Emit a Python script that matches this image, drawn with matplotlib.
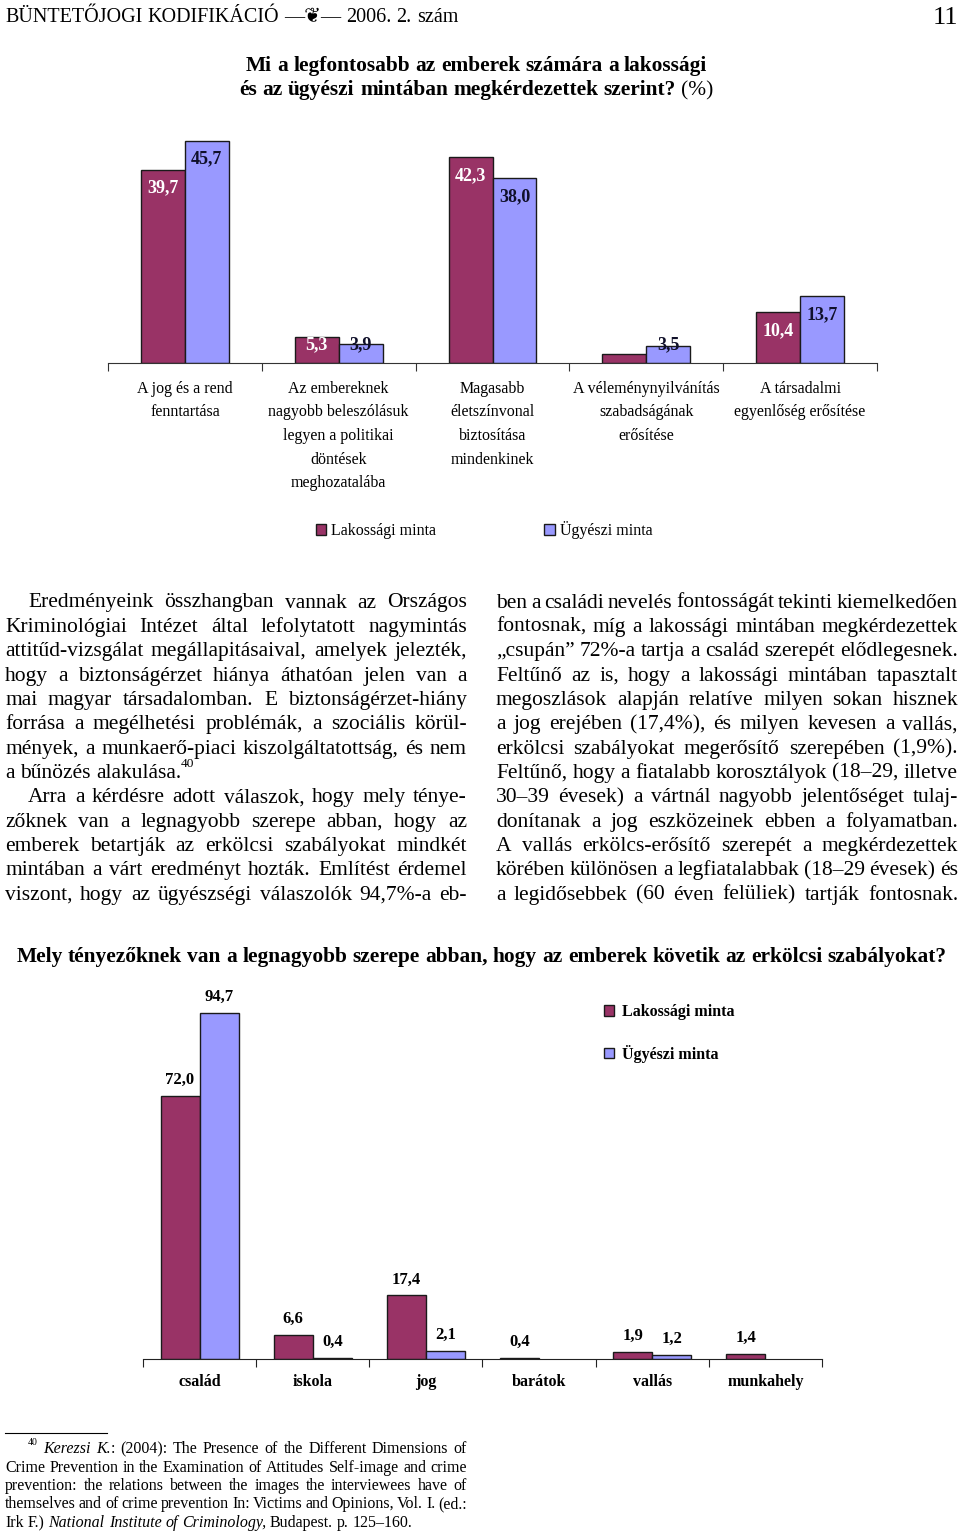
import matplotlib
matplotlib.use('Agg')
import matplotlib.pyplot as plt
import matplotlib.transforms as mtransforms
import numpy as np

plt.rcParams['font.family'] = ['Liberation Serif', 'DejaVu Sans']

# --- chart 1: Mi a legfontosabb ... (%)
cats1 = ['A jog és a rend\nfenntartása',
         'Az embereknek\nnagyobb beleszólásuk\nlegyen a politikai\ndöntések\nmeghozatalába',
         'Magasabb\néletszínvonal\nbiztosítása\nmindenkinek',
         'A véleménynyilvánítás\nszabadságának\nerősítése',
         'A társadalmi\negyenlőség erősítése']
lak1 = [39.7, 5.3, 42.3, 1.9, 10.4]
ugy1 = [45.7, 3.9, 38.0, 3.5, 13.7]

# --- chart 2: Mely tényezőknek ...
cats2 = ['család', 'iskola', 'jog', 'barátok', 'vallás', 'munkahely']
lak2 = [72.0, 6.6, 17.4, 0.4, 1.9, 1.4]
ugy2 = [94.7, 0.4, 2.1, 0.0, 1.2, 0.0]

series = ['Lakossági minta', 'Ügyészi minta']
colors = ['#993366', '#9999ff']

title1 = ['Mi a legfontosabb az emberek számára a lakossági',
          'és az ügyészi mintában megkérdezettek szerint? ~(%)']
title2 = 'Mely tényezőknek van a legnagyobb szerepe abban, hogy az emberek követik az erkölcsi szabályokat?'

# body text, markup: _italic  ^superscript  | joins pieces of one word
left_col = [
    'Eredményeink összhangban vannak az Országos',
    'Kriminológiai Intézet által lefolytatott nagymintás',
    'attitűd-vizsgálat megállapitásaival, amelyek jelezték,',
    'hogy a biztonságérzet hiánya áthatóan jelen van a',
    'mai magyar társadalomban. E biztonságérzet-hiány',
    'forrása a megélhetési problémák, a szociális körül-',
    'mények, a munkaerő-piaci kiszolgáltatottság, és nem',
    'a bűnözés alakulása.|^40',
    'Arra a kérdésre adott válaszok, hogy mely ténye-',
    'zőknek van a legnagyobb szerepe abban, hogy az',
    'emberek betartják az erkölcsi szabályokat mindkét',
    'mintában a várt eredményt hozták. Említést érdemel',
    'viszont, hogy az ügyészségi válaszolók 94,7%-a eb-',
]
right_col = [
    'ben a családi nevelés fontosságát tekinti kiemelkedően',
    'fontosnak, míg a lakossági mintában megkérdezettek',
    '„csupán” 72%-a tartja a család szerepét elődlegesnek.',
    'Feltűnő az is, hogy a lakossági mintában tapasztalt',
    'megoszlások alapján relatíve milyen sokan hisznek',
    'a jog erejében (17,4%), és milyen kevesen a vallás,',
    'erkölcsi szabályokat megerősítő szerepében (1,9%).',
    'Feltűnő, hogy a fiatalabb korosztályok (18–29, illetve',
    '30–39 évesek) a vártnál nagyobb jelentőséget tulaj-',
    'donítanak a jog eszközeinek ebben a folyamatban.',
    'A vallás erkölcs-erősítő szerepét a megkérdezettek',
    'körében különösen a legfiatalabbak (18–29 évesek) és',
    'a legidősebbek (60 éven felüliek) tartják fontosnak.',
]
footnote = [
    '^40 _Kerezsi _K.|: (2004): The Presence of the Different Dimensions of',
    'Crime Prevention in the Examination of Attitudes Self-image and crime',
    'prevention: the relations between the images the interviewees have of',
    'themselves and of crime prevention In: Victims and Opinions, Vol. I. (ed.:',
    'Irk F.) _National _Institute _of _Criminology, Budapest. p. 125–160.',
]

W, H = 960, 1531
fig = plt.figure(figsize=(W / 100, H / 100), dpi=100)
page = fig.add_axes([0, 0, 1, 1])
page.set_xlim(0, W)
page.set_ylim(H, 0)
page.axis('off')
renderer = fig.canvas.get_renderer()


def px_rect(x0, y0, x1, y1):
    return [x0 / W, 1 - y1 / H, (x1 - x0) / W, (y1 - y0) / H]


def fmt(v):
    return f'{v:.1f}'.replace('.', ',')


def put(x, y, s, size, style):
    if style == 'sup':
        size = size * 0.62
        y = y - size * 1.389 * 0.8
    return page.text(x, y, s, fontsize=size,
                     fontweight='bold' if style == 'bold' else 'normal',
                     fontstyle='italic' if style == 'italic' else 'normal',
                     ha='left', va='baseline')


def text_line(line, x0, x1, y, size, align='justify', base='normal'):
    items = []
    for w in line.split(' '):
        ts, ws = [], []
        for s in w.split('|'):
            st = base
            if s[:1] == '_':
                st, s = 'italic', s[1:]
            elif s[:1] == '^':
                st, s = 'sup', s[1:]
            elif s[:1] == '~':
                st, s = 'normal', s[1:]
            t = put(0, y, s, size, st)
            ts.append(t)
            ws.append(t.get_window_extent(renderer).width)
        items.append((ts, ws))
    total = sum(sum(ws) for _, ws in items)
    gap = size * 1.389 * 0.25
    if align == 'justify' and len(items) > 1:
        gap = (x1 - x0 - total) / (len(items) - 1)
    full = total + gap * (len(items) - 1)
    x = (x0 + x1) / 2 - full / 2 if align == 'center' else x0
    for ts, ws in items:
        for t, w in zip(ts, ws):
            t.set_x(x)
            x += w
        x += gap


# header
text_line('BÜNTETŐJOGI KODIFIKÁCIÓ —❦— 2006. 2. szám', 5, 500, 22, 14.5, align='left')
page.text(958, 24, '11', fontsize=19, ha='right', va='baseline')

# chart 1 title
for k, ln in enumerate(title1):
    text_line(ln, 245, 708, 71 + 24 * k, 15.4, align='center', base='bold')

# chart 1
ax1 = fig.add_axes(px_rect(108, 120, 877, 363))
x1 = np.arange(len(cats1))
bw1 = 0.286
b1 = ax1.bar(x1 - bw1 / 2, lak1, bw1, color=colors[0], edgecolor='#1a1a1a', lw=1)
b2 = ax1.bar(x1 + bw1 / 2, ugy1, bw1, color=colors[1], edgecolor='#1a1a1a', lw=1)
ax1.set_xlim(-0.5, len(cats1) - 0.5)
ax1.set_ylim(0, 50)
for side in ['left', 'right', 'top']:
    ax1.spines[side].set_visible(False)
ax1.spines['bottom'].set_color('#333333')
ax1.set_yticks([])
ax1.set_xticks([])
ax1.set_xticks(np.arange(-0.5, len(cats1)), minor=True)
ax1.tick_params(axis='x', which='minor', length=6, width=0.8, color='#333333')
ax1.patch.set_alpha(0)
for xi, v in zip(x1, lak1):
    if v >= 3:
        ax1.text(xi - bw1 / 2, max(v - 3.7, 3.7), fmt(v), ha='center', va='center',
                 color='white', fontsize=13, fontweight='bold')
for xi, v in zip(x1, ugy1):
    if v >= 3:
        ax1.text(xi + bw1 / 2, max(v - 3.7, 3.7), fmt(v), ha='center', va='center',
                 color='#10102a', fontsize=13, fontweight='bold')
tr1 = mtransforms.blended_transform_factory(ax1.transData, page.transData)
for i, lab in enumerate(cats1):
    for k, ln in enumerate(lab.split('\n')):
        ax1.text(i, 389 + 23.5 * k, ln, transform=tr1, ha='center', va='center', fontsize=11.5)
fig.legend([b1, b2], series, loc='center', bbox_to_anchor=(484 / W, 1 - 530 / H), ncol=2,
           frameon=False, fontsize=11.5, handlelength=0.65, handleheight=0.65,
           handletextpad=0.3, columnspacing=6.8, borderpad=0)

# body text
for i, ln in enumerate(left_col):
    indent = 28 if i in (0, 8) else 5
    text_line(ln, indent, 467, 607.5 + 24.35 * i, 15.5, align='left' if i == 7 else 'justify')
for i, ln in enumerate(right_col):
    text_line(ln, 496, 958, 607.5 + 24.35 * i, 15.5)

# chart 2 title
text_line(title2, 15, 948, 962, 15.4, align='center', base='bold')

# chart 2
ax2 = fig.add_axes(px_rect(143, 994, 822, 1359))
x2 = np.arange(len(cats2))
bw2 = 0.345
lak2a, ugy2a = np.array(lak2), np.array(ugy2)
m1, m2 = lak2a > 0, ugy2a > 0
c1 = ax2.bar(x2[m1] - bw2 / 2, lak2a[m1], bw2, color=colors[0], edgecolor='#1a1a1a', lw=1)
c2 = ax2.bar(x2[m2] + bw2 / 2, ugy2a[m2], bw2, color=colors[1], edgecolor='#1a1a1a', lw=1)
ax2.set_xlim(-0.5, len(cats2) - 0.5)
ax2.set_ylim(0, 100)
for side in ['left', 'right', 'top']:
    ax2.spines[side].set_visible(False)
ax2.spines['bottom'].set_color('#222222')
ax2.set_yticks([])
ax2.set_xticks([])
ax2.set_xticks(np.arange(-0.5, len(cats2)), minor=True)
ax2.tick_params(axis='x', which='minor', length=6, width=0.8, color='#222222')
ax2.patch.set_alpha(0)
for xs, vals in ((x2[m1] - bw2 / 2, lak2a[m1]), (x2[m2] + bw2 / 2, ugy2a[m2])):
    for xi, v in zip(xs, vals):
        ax2.annotate(fmt(v), (xi, v), xytext=(0, 11.5), textcoords='offset points',
                     ha='center', va='center', fontsize=12, fontweight='bold')
tr2 = mtransforms.blended_transform_factory(ax2.transData, page.transData)
for i, lab in enumerate(cats2):
    ax2.text(i, 1382, lab, transform=tr2, ha='center', va='center', fontsize=11.5, fontweight='bold')
fig.legend([c1, c2], series, loc='upper left', bbox_to_anchor=(596 / W, 1 - 996 / H), ncol=1,
           frameon=False, prop={'size': 11.5, 'weight': 'bold'}, handlelength=0.65,
           handleheight=0.65, handletextpad=0.45, labelspacing=1.55, borderpad=0)

# footnote
page.plot([5, 107], [1433, 1433], color='black', lw=0.8)
for i, ln in enumerate(footnote):
    text_line(ln, 28 if i == 0 else 5, 467, 1453 + 18.5 * i, 11.5,
              align='left' if i == len(footnote) - 1 else 'justify')

fig.savefig('out.png', dpi=100)
